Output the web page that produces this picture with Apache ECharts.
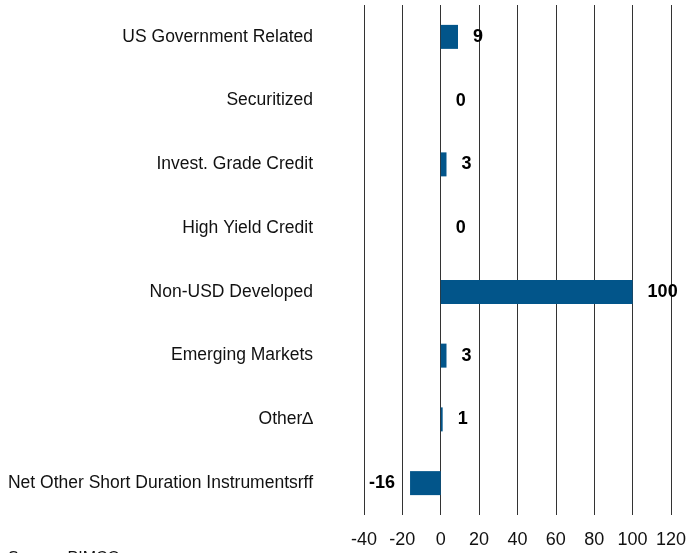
<!DOCTYPE html>
<html>
<head>
<meta charset="utf-8">
<script src="https://cdn.jsdelivr.net/npm/echarts@6/dist/echarts.min.js"></script>
<style>
  html, body { margin: 0; padding: 0; background: #fff; }
  #chart { width: 689px; height: 553px; }
</style>
</head>
<body>
<div id="chart"></div>
<script>
// 类别（从上到下）
const categories = [
  'US Government Related',
  'Securitized',
  'Invest. Grade Credit',
  'High Yield Credit',
  'Non-USD Developed',
  'Emerging Markets',
  'Other\u2206',
  'Net Other Short Duration Instrumentsrff'
];
const values = [9, 0, 3, 0, 100, 3, 1, -16];
const xTicks = [-40, -20, 0, 20, 40, 60, 80, 100, 120];

const barColor = '#02558a';

const chart = echarts.init(document.getElementById('chart'));
const option = {
  animation: false,
  grid: {
    left: 364,
    right: 15,
    top: 5,
    bottom: 38
  },
  xAxis: {
    type: 'value',
    min: xTicks[0],
    max: xTicks[xTicks.length - 1],
    interval: 20,
    axisLine: { show: false },
    axisTick: { show: false },
    axisLabel: {
      margin: 16,
      fontFamily: 'Liberation Sans',
      fontSize: 18,
      color: '#111'
    },
    splitLine: {
      lineStyle: { color: '#333', width: 1 }
    }
  },
  yAxis: {
    type: 'category',
    inverse: true,
    data: categories,
    axisLine: { show: false },
    axisTick: { show: false },
    axisLabel: {
      margin: 51,
      fontFamily: 'Liberation Sans',
      fontSize: 17.5,
      color: '#111'
    }
  },
  series: [
    {
      type: 'bar',
      data: values.map(v => ({
        value: v,
        label: { position: v < 0 ? 'left' : 'right' }
      })),
      barWidth: 24,
      itemStyle: { color: barColor },
      label: {
        show: true,
        distance: 15,
        fontFamily: 'Liberation Sans',
        fontWeight: 'bold',
        fontSize: 18,
        color: '#000'
      }
    }
  ],
  graphic: [
    {
      type: 'text',
      left: 8,
      top: 551,
      style: {
        text: 'Source: PIMCO',
        font: '16px "Liberation Sans"',
        fill: '#111'
      }
    }
  ]
};
chart.setOption(option);
</script>
</body>
</html>
